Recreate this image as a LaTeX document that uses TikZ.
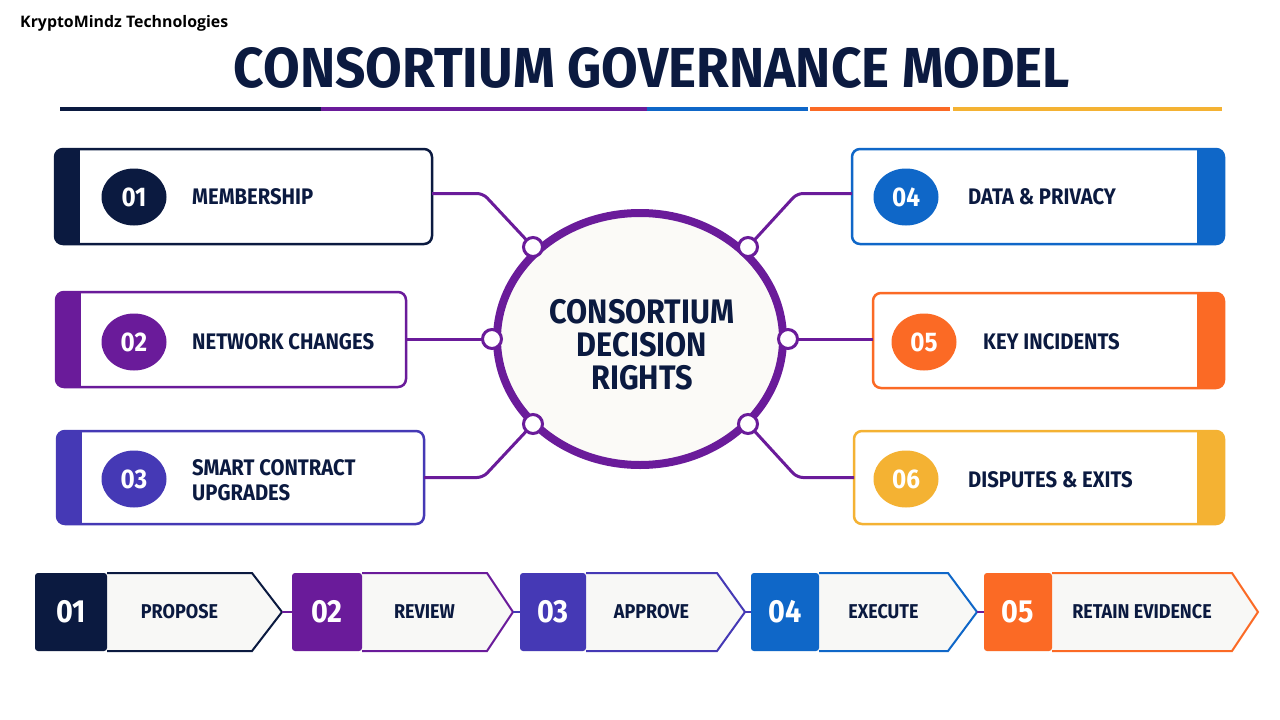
\documentclass[tikz,border=0pt]{standalone}
\usepackage{fontspec}
\setmainfont{Fira Sans}
\newfontfamily\labf{Fira Sans}[FakeStretch=0.9]
\newfontfamily\titf{Fira Sans}[FakeStretch=0.86]
\newfontfamily\headf{Open Sans}
\usetikzlibrary{shapes.geometric,calc}
\definecolor{cnavy}{HTML}{0B1A40}
\definecolor{cpurple}{HTML}{6A1B9A}
\definecolor{cindigo}{HTML}{4539B5}
\definecolor{cblue}{HTML}{0F67C8}
\definecolor{corange}{HTML}{FB6A25}
\definecolor{camber}{HTML}{F4B233}
\definecolor{coff}{HTML}{F8F8F6}
\definecolor{cring}{HTML}{FBFAF7}
\tikzset{
  numc/.style={ellipse, fill=#1, minimum width=65pt, minimum height=57pt, inner sep=0pt,
    text=white, font=\labf\bfseries\fontsize{27}{27}\selectfont},
  lab/.style={anchor=west, text=cnavy, align=left, inner sep=0pt,
    font=\labf\bfseries\fontsize{22.5}{25}\selectfont},
  dotc/.style={circle, draw=cpurple, line width=3pt, fill=white, minimum size=19pt, inner sep=0pt},
  conn/.style={draw=cpurple, line width=3pt, rounded corners=6pt},
  stepnum/.style={text=white, font=\labf\bfseries\fontsize{32}{32}\selectfont},
  steplab/.style={text=cnavy, font=\labf\bfseries\fontsize{20}{20}\selectfont},
  rulebar/.style={line width=4pt},
}
% card: name, color, x1,y1,x2,y2, band side
\newcommand\mycard[7]{%
  \node[inner sep=0pt, outer sep=0pt, minimum width={#5pt-#3pt}, minimum height={#6pt-#4pt}, anchor=north west] (#1) at (#3,#4) {};
  \begin{scope}
    \clip[rounded corners=8pt] (#3,#4) rectangle (#5,#6);
    \fill[white] (#3,#4) rectangle (#5,#6);
    \ifx L#7 \fill[#2] (#3,#4) rectangle ({#3+25},#6);\else \fill[#2] ({#5-27},#4) rectangle (#5,#6);\fi
  \end{scope}
  \draw[#2, line width=2.5pt, rounded corners=8pt] (#3,#4) rectangle (#5,#6);
}
% chevron: name, color, x1, xblock, xshoulder, xtip, number, label
\newcommand\mychev[8]{%
  \node[inner sep=0pt, outer sep=0pt, minimum width={#6pt-#3pt}, minimum height=79pt, anchor=west] (#1) at (#3,612) {};
  \fill[coff, rounded corners=3pt] (#3,573) -- (#5,573) -- (#6,612) -- (#5,651) -- (#3,651) -- cycle;
  \fill[#2, rounded corners=3pt] (#4,573) -- (#3,573) -- (#3,651) -- (#4,651) -- cycle;
  \draw[#2, line width=2pt, line join=miter] (#4,573) -- (#5,573) -- (#6,612) -- (#5,651) -- (#4,651);
  \node[stepnum] at ({(#3+#4)/2},612) {#7};
  \node[steplab] at ({(#4+#5)/2},612) {#8};
}
\begin{document}
\begin{tikzpicture}[x=1pt,y=-1pt]
\useasboundingbox (0,0) rectangle (1280,720);
\fill[white] (0,0) rectangle (1280,720);

% header
\node[anchor=west, inner sep=0pt, text=black] (brand) at (20,23) {\resizebox{208pt}{!}{\headf\bfseries KryptoMindz Technologies}};
\node[inner sep=0pt, text=cnavy] (title) at (652,68) {\resizebox{836pt}{40pt}{\titf\bfseries CONSORTIUM GOVERNANCE MODEL}};

% rule
\draw[rulebar, cnavy] (60,109) -- (321,109);
\draw[rulebar, cpurple] (321,109) -- (647,109);
\draw[rulebar, cblue] (647,109) -- (808,109);
\draw[rulebar, corange] (810,109) -- (950,109);
\draw[rulebar, camber] (953,109) -- (1222,109);

% cards
\mycard{b1}{cnavy}{55}{149}{432}{244}{L}
\mycard{b2}{cpurple}{56}{292}{406}{387}{L}
\mycard{b3}{cindigo}{57}{431}{424}{524}{L}
\mycard{b4}{cblue}{852}{149}{1224}{244}{R}
\mycard{b5}{corange}{873}{293}{1224}{388}{R}
\mycard{b6}{camber}{854}{431}{1224}{524}{R}

\node[numc=cnavy] (n1) at (134,197) {01};
\node[numc=cpurple] (n2) at (134,342) {02};
\node[numc=cindigo] (n3) at (134,479) {03};
\node[numc=cblue] (n4) at (906,197) {04};
\node[numc=corange] (n5) at (924,342) {05};
\node[numc=camber] (n6) at (906,479) {06};

\node[lab] (t1) at (192,197) {MEMBERSHIP};
\node[lab] (t2) at (192,342) {NETWORK CHANGES};
\node[lab] (t3) at (192,480) {SMART CONTRACT\\UPGRADES};
\node[lab] (t4) at (968,197) {DATA \& PRIVACY};
\node[lab] (t5) at (983,342) {KEY INCIDENTS};
\node[lab] (t6) at (968,480) {DISPUTES \& EXITS};

% centre
\node[ellipse, draw=cpurple, line width=8pt, fill=cring, minimum width=286pt, minimum height=252pt,
  inner sep=0pt] (hub) at (640,339) {};
\node[align=center, text=cnavy, inner sep=0pt, font=\labf\bfseries\fontsize{34}{33}\selectfont] (hubtext) at (642,345)
  {CONSORTIUM\\DECISION\\RIGHTS};

% dots
\coordinate (c1) at (533,247);
\coordinate (c2) at (748,247);
\coordinate (c3) at (492,339);
\coordinate (c4) at (788,339);
\coordinate (c5) at (533,424);
\coordinate (c6) at (748,424);

\draw[conn] ($(b1.east)+(0,-3)$) -- ++(51,0) -- (c1);
\draw[conn] ($(b4.west)+(0,-3)$) -- ++(-55,0) -- (c2);
\draw[conn] (b2.east |- c3) -- (c3);
\draw[conn] (b5.west |- c4) -- (c4);
\draw[conn] (b3.east) -- ++(59,0) -- (c5);
\draw[conn] (b6.west) -- ++(-57,0) -- (c6);

\foreach \i in {1,...,6} \node[dotc] (d\i) at (c\i) {};

% process chevrons
\mychev{s1}{cnavy}{35}{107}{252}{282}{01}{PROPOSE}
\mychev{s2}{cpurple}{292}{362}{487}{513}{02}{REVIEW}
\mychev{s3}{cindigo}{520}{586}{717}{745}{03}{APPROVE}
\mychev{s4}{cblue}{751}{819}{948}{977}{04}{EXECUTE}
\mychev{s5}{corange}{984}{1052}{1232}{1258}{05}{RETAIN EVIDENCE}

\draw[cpurple, line width=2pt] (s1.east) -- (s2.west);
\draw[cindigo, line width=2pt] (s2.east) -- (s3.west);
\draw[cindigo, line width=2pt] (s3.east) -- (s4.west);
\draw[cpurple, line width=2pt] (s4.east) -- (s5.west);
\end{tikzpicture}
\end{document}
